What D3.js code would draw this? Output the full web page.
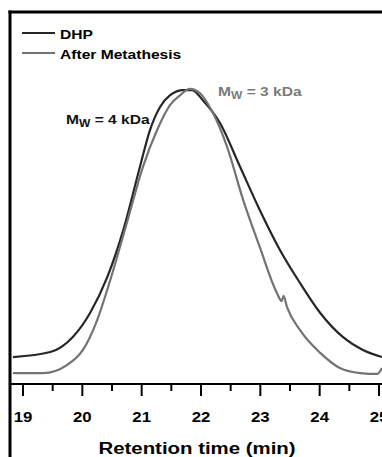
<!DOCTYPE html>
<html>
<head>
<meta charset="utf-8">
<script src="https://cdn.jsdelivr.net/npm/d3@7"></script>
<style>
  body { margin: 0; background: #fff; }
  svg { display: block; font-family: Arial, "Liberation Sans", sans-serif; font-weight: bold; }
</style>
</head>
<body>
<div id="chart"></div>
<script>
// retention time (min) / normalized detector signal
var dhpTime = [18.83, 19.46, 19.84, 20.13, 20.42, 20.69, 20.97, 21.14, 21.31, 21.48, 21.70, 21.85,
  22.03, 22.32, 22.66, 22.99, 23.33, 23.67, 24.01, 24.39, 24.73, 25.05];
var dhpSignal = [9.1, 10.8, 15.9, 24.0, 36.1, 52.0, 73.3, 85.8, 93.6, 97.6, 99.3, 99.3,
  95.9, 88.2, 73.3, 58.8, 45.3, 34.1, 24.0, 15.9, 11.5, 9.1];

var metaTime = [18.83, 19.34, 19.74, 20.01, 20.25, 20.47, 20.75, 21.02, 21.26, 21.48, 21.65, 21.81,
  21.98, 22.20, 22.44, 22.71, 22.99, 23.28, 23.36, 23.39, 23.45, 23.67, 24.01, 24.34, 24.68, 24.97, 25.05];
var metaSignal = [3.7, 3.7, 6.4, 11.5, 21.6, 35.1, 54.4, 73.3, 85.8, 94.3, 97.6, 99.7,
  98.3, 91.6, 80.1, 62.2, 46.3, 30.7, 28.0, 29.8, 26.0, 18.2, 10.5, 5.4, 3.7, 3.4, 5.4];

var xTicks = [19, 20, 21, 22, 23, 24, 25];
var xMinorTicks = [19.5, 20.5, 21.5, 22.5, 23.5, 24.5];
var seriesNames = ["DHP", "After Metathesis"];
var seriesColors = ["#262626", "#737373"];

var width = 382, height = 457;
var frameLeft = 10, frameTop = 12, axisY = 384;
var stretch = 1.2; // the original lettering is set wide

var svg = d3.select("#chart").append("svg")
  .attr("width", width)
  .attr("height", height);

var xScale = d3.scaleLinear().domain([19, 25]).range([23, 379]);
var yScale = d3.scaleLinear().domain([0, 100]).range([axisY, 88]);

svg.append("clipPath").attr("id", "plotClip")
  .append("rect")
  .attr("x", frameLeft).attr("y", frameTop)
  .attr("width", width - frameLeft).attr("height", axisY - frameTop);

var line = d3.line()
  .x(function (d) { return xScale(d[0]); })
  .y(function (d) { return yScale(d[1]); })
  .curve(d3.curveMonotoneX);

var dhp = dhpTime.map(function (t, i) { return [t, dhpSignal[i]]; });
var meta = metaTime.map(function (t, i) { return [t, metaSignal[i]]; });

var plot = svg.append("g").attr("clip-path", "url(#plotClip)");
plot.append("path").datum(dhp)
  .attr("d", line)
  .attr("fill", "none")
  .attr("stroke", seriesColors[0])
  .attr("stroke-width", 2.2);
plot.append("path").datum(meta)
  .attr("d", line)
  .attr("fill", "none")
  .attr("stroke", seriesColors[1])
  .attr("stroke-width", 2.2);

// frame: top and left borders as solid bars
svg.append("rect")
  .attr("x", frameLeft - 1.5).attr("y", frameTop - 1.5)
  .attr("width", width - frameLeft + 1.5).attr("height", 3)
  .attr("fill", "#000");
svg.append("rect")
  .attr("x", frameLeft - 1.5).attr("y", frameTop - 1.5)
  .attr("width", 3).attr("height", height - frameTop + 1.5)
  .attr("fill", "#000");

function wideText(parent, x, y) {
  return parent.append("text")
    .attr("transform", "translate(" + x + "," + y + ") scale(" + stretch + ",1)");
}

// x axis
var xAxis = svg.append("g").attr("transform", "translate(0," + axisY + ")");
xAxis.append("line")
  .attr("x1", frameLeft).attr("x2", width)
  .attr("stroke", "#000").attr("stroke-width", 2);
xAxis.selectAll(".major")
  .data(xTicks)
  .enter().append("line")
  .attr("class", "major")
  .attr("x1", function (d) { return xScale(d); })
  .attr("x2", function (d) { return xScale(d); })
  .attr("y1", 0).attr("y2", 12)
  .attr("stroke", "#000").attr("stroke-width", 2);
xAxis.selectAll(".minor")
  .data(xMinorTicks)
  .enter().append("line")
  .attr("class", "minor")
  .attr("x1", function (d) { return xScale(d); })
  .attr("x2", function (d) { return xScale(d); })
  .attr("y1", 0).attr("y2", 7)
  .attr("stroke", "#000").attr("stroke-width", 2);
xAxis.selectAll(".lbl")
  .data(xTicks)
  .enter().append("text")
  .attr("class", "lbl")
  .attr("transform", function (d) { return "translate(" + xScale(d) + ",38) scale(" + stretch + ",1)"; })
  .attr("text-anchor", "middle")
  .style("font-size", "14px")
  .text(function (d) { return d; });

wideText(svg, 197, 454)
  .attr("text-anchor", "middle")
  .style("font-size", "17px")
  .text("Retention time (min)");

// legend
var legend = svg.selectAll(".legend")
  .data(seriesNames)
  .enter().append("g")
  .attr("class", "legend")
  .attr("transform", function (d, i) { return "translate(0," + (33 + i * 20) + ")"; });
legend.append("line")
  .attr("x1", 22).attr("x2", 55)
  .attr("stroke", function (d, i) { return seriesColors[i]; })
  .attr("stroke-width", 2.2);
legend.append("text")
  .attr("transform", "translate(60,5.5) scale(" + stretch + ",1)")
  .style("font-size", "13px")
  .attr("fill", "#000")
  .text(function (d) { return d; });

// Mw annotations
function mwLabel(x, y, value, color) {
  var t = wideText(svg, x, y)
    .attr("fill", color)
    .style("font-size", "13px");
  t.append("tspan").text("M");
  t.append("tspan").attr("dy", 3).style("font-size", "10px").text("W");
  t.append("tspan").attr("dy", -3).text(" = " + value + " kDa");
}
mwLabel(66, 124, 4, "#111");
mwLabel(218, 96, 3, "#7a7a7a");
</script>
</body>
</html>
